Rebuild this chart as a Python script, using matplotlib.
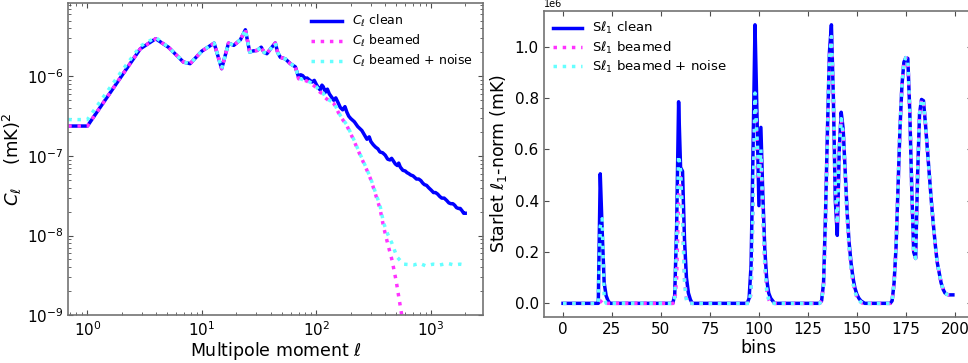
import numpy as np
import matplotlib
matplotlib.use("Agg")
import matplotlib.pyplot as plt
from matplotlib.ticker import NullFormatter

# ---------------------------------------------------------------------------
# Left panel: angular power spectrum (values read as log10 C_ell)
# ---------------------------------------------------------------------------
ell_low = [0.68, 1.0, 2.0, 2.9, 3.95, 5.1, 6.9, 7.9, 10.0, 12.8, 14.9, 17.1,
           19.0, 21.7, 24.0, 26.2, 28.0, 30.4, 33.0, 35.0, 37.0, 40.0, 43.8,
           46.0, 48.5, 53.6, 59.3, 65.6]
logcl_low = [-6.624, -6.624, -5.99, -5.653, -5.527, -5.633, -5.82, -5.84,
             -5.682, -5.582, -5.903, -5.582, -5.61, -5.54, -5.414, -5.695,
             -5.68, -5.674, -5.633, -5.70, -5.715, -5.65, -5.58, -5.70,
             -5.76, -5.78, -5.84, -5.88]
logcl_low_noise = [-6.543, -6.543, -5.93, -5.62, -5.51]

ell_clean_hi = [70, 73, 76, 80, 83, 88, 92, 96, 100, 104, 108, 112, 115, 120,
                125, 130, 136, 142, 148, 155, 162, 170, 178, 185, 192, 200,
                215, 230, 250, 277, 290, 300, 315, 330, 345, 360, 380, 400,
                420, 440, 455, 470, 490, 510, 525, 542, 570, 600, 620, 640,
                670, 700, 725, 750, 785, 820, 850, 880, 920, 960, 1010, 1057,
                1100, 1150, 1200, 1250, 1310, 1380, 1440, 1500, 1560, 1620,
                1680, 1750, 1810, 1880, 1940, 2000]
logcl_clean_hi = [-6.01, -5.98, -5.99, -6.03, -6.02, -6.05, -6.07, -6.05,
                  -6.10, -6.14, -6.17, -6.11, -6.13, -6.20, -6.16, -6.22,
                  -6.26, -6.30, -6.27, -6.33, -6.39, -6.42, -6.38, -6.45,
                  -6.50, -6.53, -6.57, -6.63, -6.68, -6.79, -6.76, -6.82,
                  -6.86, -6.89, -6.91, -6.95, -6.96, -6.99, -7.04, -7.05,
                  -7.03, -7.06, -7.10, -7.12, -7.09, -7.14, -7.18, -7.19,
                  -7.21, -7.22, -7.24, -7.25, -7.27, -7.29, -7.29, -7.31,
                  -7.34, -7.36, -7.37, -7.40, -7.43, -7.46, -7.46, -7.48,
                  -7.51, -7.53, -7.53, -7.56, -7.59, -7.60, -7.60, -7.62,
                  -7.65, -7.66, -7.66, -7.69, -7.72, -7.72]

ell_beam_hi = [70, 76, 83, 92, 100, 108, 115, 120, 130, 142, 162, 185, 212,
               240, 277, 300, 327, 360, 387, 420, 459, 500, 542, 580, 620]
logcl_beam_hi = [-6.03, -6.04, -6.06, -6.10, -6.14, -6.20, -6.22, -6.27,
                 -6.31, -6.34, -6.50, -6.62, -6.80, -6.98, -7.18, -7.30,
                 -7.47, -7.66, -7.89, -8.10, -8.31, -8.58, -8.89, -9.15, -9.40]

ell_noise_hi = [70, 76, 83, 92, 100, 108, 115, 120, 130, 142, 162, 185, 212,
                240, 277, 300, 327, 360, 387, 420, 459, 507, 580, 708, 800,
                900, 1050, 1200, 1400, 1600, 1800, 2000]
logcl_noise_hi = [-6.02, -6.04, -6.05, -6.09, -6.13, -6.19, -6.21, -6.26,
                  -6.30, -6.33, -6.49, -6.61, -6.79, -6.97, -7.17, -7.29,
                  -7.45, -7.62, -7.84, -7.98, -8.10, -8.27, -8.36, -8.37,
                  -8.35, -8.38, -8.36, -8.37, -8.35, -8.37, -8.36, -8.37]

# ---------------------------------------------------------------------------
# Right panel: starlet l1-norm per bin (units of 1e6 mK)
# ---------------------------------------------------------------------------
bins_clean = [0, 17, 18, 19, 20, 21, 22, 23, 24,
              55, 56, 57, 58, 59, 60, 61, 62, 63, 64, 65, 66,
              93, 94, 95, 96, 97, 98, 99, 100, 101, 102, 103, 104, 105, 106, 107, 108,
              130, 131, 132, 133, 134, 135, 136, 137, 138, 139, 140, 141, 142, 143,
              144, 145, 146, 147, 148, 149, 150, 151, 152, 153, 154]
sl1_clean = [0, 0, 0.0, 0.505, 0.28, 0.08, 0.03, 0.01, 0,
             0, 0.0, 0.03, 0.30, 0.786, 0.53, 0.515, 0.25, 0.10, 0.04, 0.015, 0,
             0, 0, 0.02, 0.15, 0.60, 1.086, 0.74, 0.381, 0.686, 0.42, 0.21, 0.09,
             0.04, 0.02, 0.01, 0,
             0, 0, 0.01, 0.08, 0.35, 0.68, 0.98, 1.086, 0.80, 0.40, 0.265, 0.60,
             0.745, 0.68, 0.52, 0.36, 0.24, 0.16, 0.10, 0.06, 0.035, 0.02, 0.01,
             0.005, 0]

bins_beam = [0, 18, 19, 20, 21, 22,
             56, 57, 58, 59, 60, 61, 62, 63, 64,
             94, 95, 96, 97, 98, 99, 100, 101, 102, 103, 104, 105, 106,
             130, 131, 132, 133, 134, 135, 136, 137, 138, 139, 140, 141, 142, 143,
             144, 145, 146, 147, 148, 149, 150, 151, 152, 153]
sl1_beam = [0, 0, 0.005, 0.013, 0.005, 0,
            0, 0.0, 0.10, 0.42, 0.49, 0.35, 0.10, 0.02, 0,
            0, 0, 0.04, 0.38, 0.80, 0.63, 0.48, 0.58, 0.35, 0.15, 0.05, 0.015, 0,
            0, 0, 0.01, 0.07, 0.30, 0.65, 0.95, 1.04, 0.82, 0.45, 0.31, 0.60,
            0.72, 0.66, 0.50, 0.34, 0.22, 0.14, 0.08, 0.045, 0.025, 0.012,
            0.005, 0]

bins_noise = [0, 18, 19, 20, 21, 22,
              56, 57, 58, 59, 60, 61, 62, 63, 64,
              94, 95, 96, 97, 98, 99, 100, 101, 102, 103, 104, 105, 106,
              130, 131, 132, 133, 134, 135, 136, 137, 138, 139, 140, 141, 142, 143,
              144, 145, 146, 147, 148, 149, 150, 151, 152, 153]
sl1_noise = [0, 0, 0.30, 0.33, 0.02, 0,
             0, 0.02, 0.25, 0.576, 0.52, 0.33, 0.08, 0.01, 0,
             0, 0, 0.05, 0.40, 0.82, 0.65, 0.50, 0.60, 0.35, 0.15, 0.05, 0.015, 0,
             0, 0, 0.01, 0.07, 0.30, 0.65, 0.95, 1.04, 0.82, 0.45, 0.31, 0.60,
             0.72, 0.66, 0.50, 0.34, 0.22, 0.14, 0.08, 0.045, 0.025, 0.012,
             0.005, 0]

# last structure is the same for all three maps
bins_tail = [166, 167, 168, 169, 170, 171, 172, 173, 174, 175, 176, 177, 178,
             179, 180, 181, 182, 183, 184, 185, 186, 187, 188, 189, 190, 191,
             192, 193, 194, 195, 196, 197, 198, 199]
sl1_tail = [0, 0, 0.01, 0.08, 0.22, 0.45, 0.68, 0.85, 0.94, 0.958, 0.955,
            0.75, 0.45, 0.20, 0.175, 0.50, 0.74, 0.795, 0.79, 0.70, 0.60,
            0.50, 0.40, 0.31, 0.23, 0.16, 0.12, 0.08, 0.055, 0.04, 0.035,
            0.033, 0.033, 0.033]

BLUE = '#0000ff'
MAGENTA = '#ff33ff'
CYAN = '#66ffff'
LW = 2.5

plt.rcParams['font.family'] = ['DejaVu Sans']

fig = plt.figure(figsize=(9.68, 3.63), dpi=100)
ax1 = fig.add_axes([0.0705, 0.132, 0.4288, 0.859])
ax2 = fig.add_axes([0.5615, 0.126, 0.443, 0.844])

# ---- left panel ----
ell_c = np.array(ell_low + ell_clean_hi)
cl_c = 10 ** np.array(logcl_low + logcl_clean_hi)
ell_b = np.array(ell_low + ell_beam_hi)
cl_b = 10 ** np.array(logcl_low + logcl_beam_hi)
ell_n = np.array(ell_low + ell_noise_hi)
cl_n = 10 ** np.array(logcl_low_noise + logcl_low[5:] + logcl_noise_hi)

ax1.plot(ell_c, cl_c, '-', color=BLUE, lw=LW, label=r'$C_\ell$ clean')
ax1.plot(ell_b, cl_b, ':', color=MAGENTA, lw=LW, label=r'$C_\ell$ beamed')
ax1.plot(ell_n, cl_n, ':', color=CYAN, lw=LW, label=r'$C_\ell$ beamed + noise')
ax1.set_xscale('log')
ax1.set_yscale('log')
ax1.set_xlim(0.68, 2880)
ax1.set_ylim(1e-9, 8.3e-6)
ax1.xaxis.set_minor_formatter(NullFormatter())
ax1.yaxis.set_minor_formatter(NullFormatter())
ax1.set_xlabel(r'Multipole moment $\ell$', fontsize=12.5, labelpad=1)
ax1.set_ylabel(r'$C_\ell$    (mK)$^2$', fontsize=13, labelpad=2)
ax1.legend(loc='upper right', frameon=False, fontsize=9, handlelength=2.5,
           borderaxespad=0.4, labelspacing=0.3)

# ---- right panel ----
ax2.plot(bins_clean + bins_tail, sl1_clean + sl1_tail, '-', color=BLUE, lw=LW,
         label=r'S$\ell_1$ clean')
ax2.plot(bins_beam + bins_tail, sl1_beam + sl1_tail, ':', color=MAGENTA, lw=LW,
         label=r'S$\ell_1$ beamed')
ax2.plot(bins_noise + bins_tail, sl1_noise + sl1_tail, ':', color=CYAN, lw=LW,
         label=r'S$\ell_1$ beamed + noise')
ax2.set_xlim(-9.95, 208.95)
ax2.set_ylim(-0.0543, 1.1403)
ax2.set_xticks([0, 25, 50, 75, 100, 125, 150, 175, 200])
ax2.set_yticks([0.0, 0.2, 0.4, 0.6, 0.8, 1.0])
ax2.set_yticklabels(['0.0', '0.2', '0.4', '0.6', '0.8', '1.0'])
ax2.text(0.0, 1.005, '1e6', transform=ax2.transAxes, fontsize=7,
         ha='left', va='bottom')
ax2.set_xlabel('bins', fontsize=12.5, labelpad=1)
ax2.set_ylabel(r'Starlet $\ell_1$-norm (mK)', fontsize=12.5, labelpad=4)
ax2.legend(loc='upper left', frameon=False, fontsize=9.5, handlelength=2.2,
           borderaxespad=0.3, labelspacing=0.25)

for ax in (ax1, ax2):
    ax.tick_params(which='both', direction='in', top=True, right=True,
                   labelsize=11, color='0.3')
    ax.tick_params(which='major', length=3.5)
    ax.tick_params(which='minor', length=2)
    for sp in ax.spines.values():
        sp.set_color('0.45')
        sp.set_linewidth(1.2)

fig.savefig('out.png', dpi=100)
